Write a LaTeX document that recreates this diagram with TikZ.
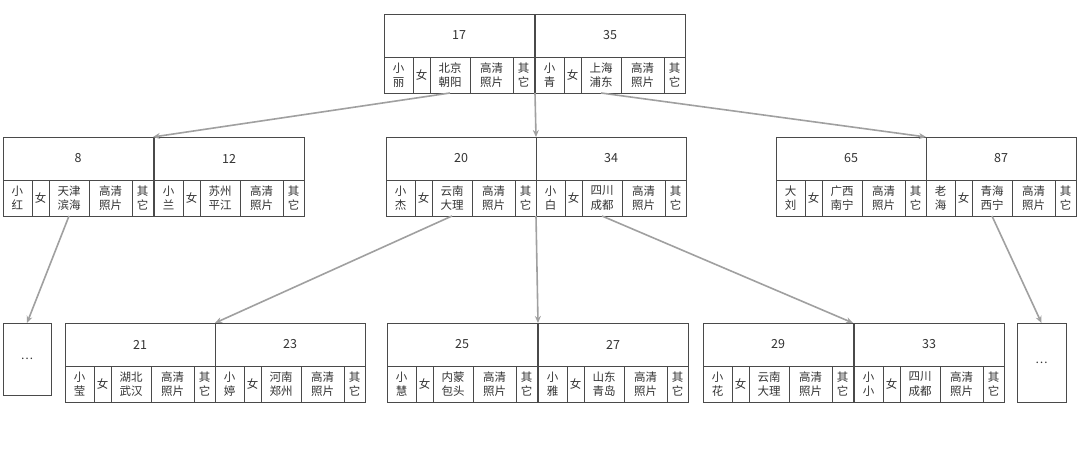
\documentclass[tikz,border=0pt]{standalone}
\usepackage{fontspec}
\setmainfont{Noto Sans CJK SC}
\usetikzlibrary{arrows.meta}
\definecolor{boxline}{HTML}{4A4A4A}
\definecolor{txt}{HTML}{333333}
\definecolor{arr}{HTML}{A0A0A0}
\tikzset{
  keybox/.style={draw=boxline,line width=0.9pt,minimum width=150pt,minimum height=43pt,inner sep=0pt,outer sep=0pt,text=txt,font=\fontsize{12.5}{14}\selectfont},
  cellbox/.style={draw=boxline,line width=0.9pt,minimum height=36pt,inner sep=0pt,outer sep=0pt,text=txt,align=center,font=\fontsize{11.5}{14.5}\selectfont},
  dotbox/.style={draw=boxline,line width=0.9pt,inner sep=0pt,outer sep=0pt,text=txt,font=\fontsize{11.5}{14}\selectfont},
  link/.style={draw=arr,line width=1.6pt,-{Stealth[length=7pt,width=6pt]}}
}
\newcommand\recnode[6]{%
  \node[keybox,anchor=north west] (#1) at (#2,#3) {#4};
  \node[cellbox,minimum width=29pt,anchor=north west] (#1-a) at (#1.south west) {#5};
  \node[cellbox,minimum width=17pt,anchor=north west] (#1-b) at (#1-a.north east) {女};
  \node[cellbox,minimum width=40pt,anchor=north west] (#1-c) at (#1-b.north east) {#6};
  \node[cellbox,minimum width=43pt,anchor=north west] (#1-d) at (#1-c.north east) {高清\\照片};
  \node[cellbox,minimum width=21pt,anchor=north west] (#1-e) at (#1-d.north east) {其\\它};
}
\begin{document}
\begin{tikzpicture}[x=1pt,y=-1pt]
\useasboundingbox[fill=white] (0,0) rectangle (1080,454);
% top
\recnode{r17}{384}{14}{17}{小\\丽}{北京\\朝阳}
\recnode{r35}{535}{14}{35}{小\\青}{上海\\浦东}
% middle
\recnode{r8}{3}{137}{8}{小\\红}{天津\\滨海}
\recnode{r12}{154}{137}{12}{小\\兰}{苏州\\平江}
\recnode{r20}{386}{137}{20}{小\\杰}{云南\\大理}
\recnode{r34}{536}{137}{34}{小\\白}{四川\\成都}
\recnode{r65}{776}{137}{65}{大\\刘}{广西\\南宁}
\recnode{r87}{926}{137}{87}{老\\海}{青海\\西宁}
% bottom
\node[dotbox,minimum width=48pt,minimum height=72pt,anchor=north west] (dl) at (3,323) {…};
\recnode{r21}{65}{323}{21}{小\\莹}{湖北\\武汉}
\recnode{r23}{215}{323}{23}{小\\婷}{河南\\郑州}
\recnode{r25}{387}{323}{25}{小\\慧}{内蒙\\包头}
\recnode{r27}{538}{323}{27}{小\\雅}{山东\\青岛}
\recnode{r29}{703}{323}{29}{小\\花}{云南\\大理}
\recnode{r33}{854}{323}{33}{小\\小}{四川\\成都}
\node[dotbox,minimum width=49pt,minimum height=79pt,anchor=north west] (dr) at (1017,323) {…};
% links
\draw[link] (r17-c.south) -- (r8.north east);
\draw[link] (r35-a.south west) -- (r34.north west);
\draw[link] (r35-c.south) -- (r65.north east);
\draw[link] (r8-c.south) -- (dl.north);
\draw[link] (r20-c.south) -- (r21.north east);
\draw[link] (r34-a.south west) -- (r27.north west);
\draw[link] (r34-c.south) -- (r29.north east);
\draw[link] (r87-c.south) -- (dr.north);
\end{tikzpicture}
\end{document}
